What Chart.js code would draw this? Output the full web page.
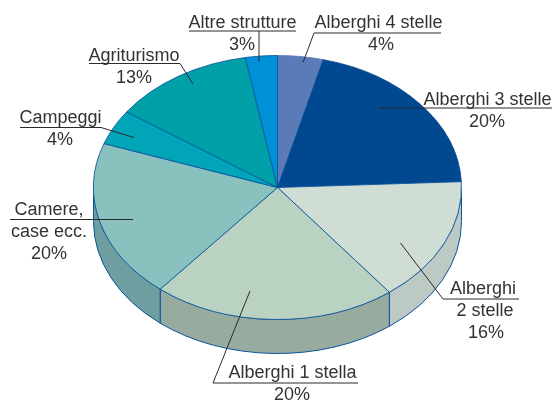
<!DOCTYPE html>
<html><head><meta charset="utf-8">
<style>html,body{margin:0;padding:0;background:#fff}canvas{display:block}</style>
<script src="https://cdn.jsdelivr.net/npm/chart.js@4"></script>
</head><body><canvas id="c" width="555" height="402"></canvas>
<script>
const categories = ["Alberghi 4 stelle","Alberghi 3 stelle","Alberghi 2 stelle","Alberghi 1 stella","Camere, case ecc.","Campeggi","Agriturismo","Altre strutture"];
const printedPercent = ["4%","20%","16%","20%","20%","4%","13%","3%"];
const sliceShares = [4, 20.3, 15.3, 21.4, 19.4, 4.3, 12.5, 2.8];
const topColors = ["#5a7bb8","#00488f","#d0ddd5","#bad2c2","#88c1be","#00a5b8","#00a0a8","#0090d6"];
const wallColors = ["#4a6799","#003a73","#bdc9c4","#97ac9f","#6e9e9f","#00869a","#008088","#0075ae"];
const edgeColor = "#0b549c";

const squash = 132/184, depth = 34;

const textBlocks = [
  {text:"Alberghi 4 stelle", x:378.5, y:28},
  {text:printedPercent[0], x:381, y:50},
  {text:"Alberghi 3 stelle", x:487.5, y:105},
  {text:printedPercent[1], x:487, y:127},
  {text:"Alberghi", x:483, y:294},
  {text:"2 stelle", x:485, y:316},
  {text:printedPercent[2], x:486, y:338},
  {text:"Alberghi 1 stella", x:292.5, y:378},
  {text:printedPercent[3], x:292, y:400},
  {text:"Camere,", x:49, y:215},
  {text:"case ecc.", x:49, y:237},
  {text:printedPercent[4], x:49, y:259},
  {text:"Campeggi", x:60.5, y:123},
  {text:printedPercent[5], x:60, y:145},
  {text:"Agriturismo", x:134, y:60.5},
  {text:printedPercent[6], x:134, y:83},
  {text:"Altre strutture", x:242.5, y:28},
  {text:printedPercent[7], x:242, y:50}
];
const leaders = [
  [[189,31],[296,31]],[[259,31],[259,62]],
  [[441,33],[314,33],[303,62.5]],
  [[379,108],[552,108]],
  [[519,299],[443,299],[400.5,243]],
  [[358,383],[213,383],[250,291]],
  [[10,219.5],[133,219.5]],
  [[20,127.5],[101,127.5],[134,137.5]],
  [[89,63.5],[180,63.5],[193,84]]
];

const pie3d = {
  id:"pie3d",
  beforeDatasetsDraw(chart){
    const ctx = chart.ctx, arcs = chart.getDatasetMeta(0).data;
    const {x:cx,y:cy,outerRadius:r} = arcs[0];
    const ry = r*squash;
    arcs.forEach((a,i)=>{
      const s = Math.max(a.startAngle,0), e = Math.min(a.endAngle,Math.PI);
      if (e <= s) return;
      ctx.beginPath();
      ctx.ellipse(cx,cy,r,ry,0,s,e,false);
      ctx.ellipse(cx,cy+depth,r,ry,0,e,s,true);
      ctx.closePath();
      ctx.fillStyle = wallColors[i];
      ctx.strokeStyle = edgeColor;
      ctx.lineWidth = 1;
      ctx.fill();
      ctx.stroke();
    });
    ctx.save();
    ctx.translate(cx,cy); ctx.scale(1,squash); ctx.translate(-cx,-cy);
  },
  afterDatasetsDraw(chart){
    const ctx = chart.ctx;
    ctx.restore();
    ctx.strokeStyle = "#2a2a2a"; ctx.lineWidth = 1;
    leaders.forEach(p=>{
      ctx.beginPath();
      p.forEach((q,i)=> i ? ctx.lineTo(q[0],q[1]) : ctx.moveTo(q[0],q[1]));
      ctx.stroke();
    });
    ctx.fillStyle = "#333";
    ctx.font = "18px 'Liberation Sans', Arial, sans-serif";
    ctx.textAlign = "center"; ctx.textBaseline = "alphabetic";
    textBlocks.forEach(t=> ctx.fillText(t.text, t.x, t.y));
  }
};

new Chart(document.getElementById("c"),{
  type:"pie",
  data:{labels:categories,datasets:[{
    data:sliceShares,
    backgroundColor:(c)=>topColors[c.dataIndex],
    borderColor:(c)=> c.dataIndex===0 ? "#5a7bb8" : (c.dataIndex===1 ? "#00488f" : edgeColor),
    borderWidth:1,
    borderAlign:"center"
  }]},
  options:{
    responsive:false,animation:false,
    layout:{padding:{left:93,right:93,top:3,bottom:30}},
    plugins:{legend:{display:false},tooltip:{enabled:false},title:{display:false}},
    events:[]
  },
  plugins:[pie3d]
});
</script></body></html>
